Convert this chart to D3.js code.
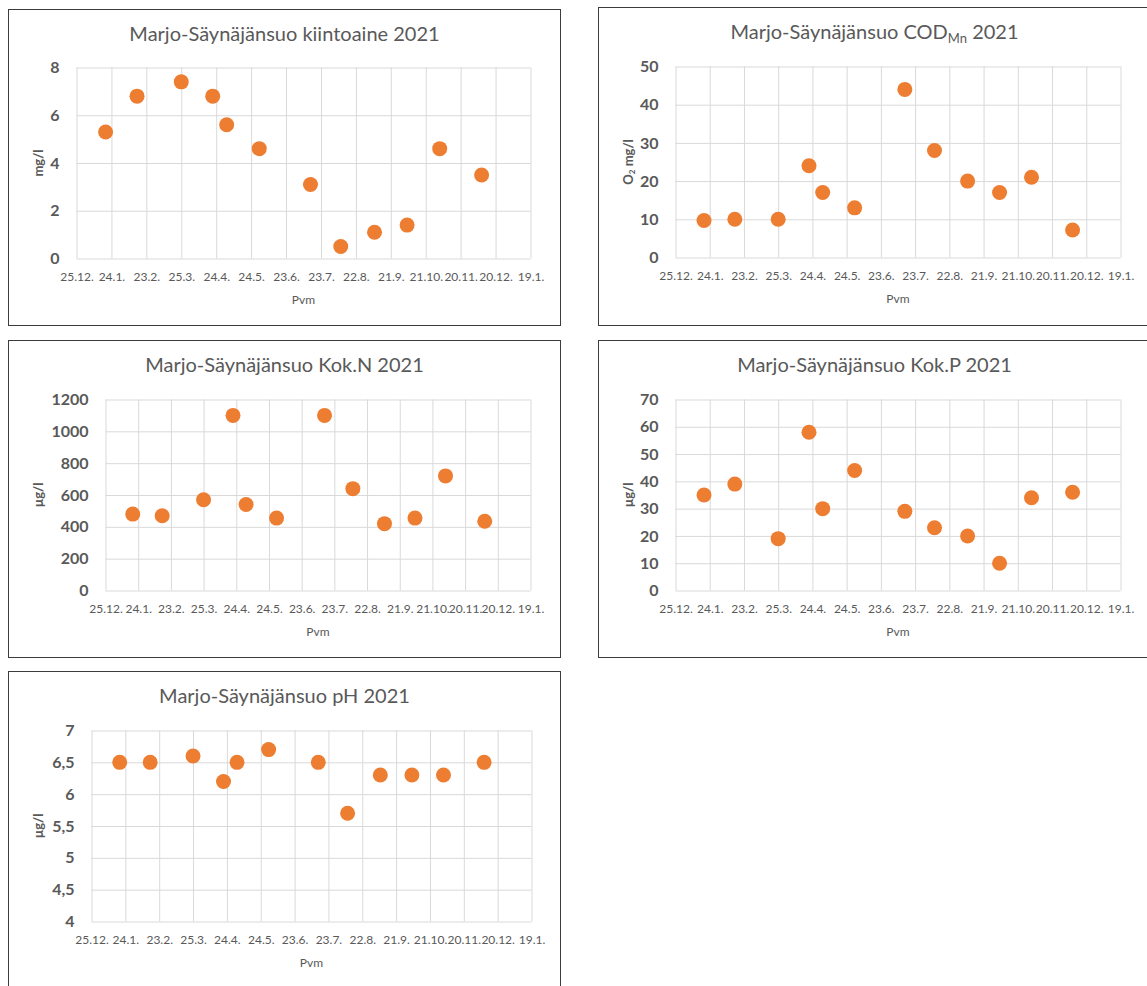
<!DOCTYPE html>
<html>
<head>
<meta charset="utf-8">
<script src="https://cdn.jsdelivr.net/npm/d3@7"></script>
<style>
  body { margin: 0; background: #fff; }
  svg text { font-family: Lato, "Open Sans", sans-serif; }
</style>
</head>
<body>
<svg id="chart" width="1147" height="986"></svg>
<script>
// Sampling dates, Marjo-Säynäjänsuo 2021
const sampleDates = ["2021-01-19", "2021-02-15", "2021-03-25", "2021-04-21", "2021-05-03", "2021-05-31",
                     "2021-07-14", "2021-08-09", "2021-09-07", "2021-10-05", "2021-11-02", "2021-12-08"];

// Measured values per parameter
const kiintoaine = [5.3, 6.8, 7.4, 6.8, 5.6, 4.6, 3.1, 0.5, 1.1, 1.4, 4.6, 3.5];   // mg/l
const codMn      = [9.7, 10, 10, 24, 17, 13, 44, 28, 20, 17, 21, 7.2];              // O2 mg/l
const kokN       = [480, 470, 570, 1100, 540, 455, 1100, 640, 420, 455, 720, 435];  // µg/l
const kokP       = [35, 39, 19, 58, 30, 44, 29, 23, 20, 10, 34, 36];                // µg/l
const pH         = [6.5, 6.5, 6.6, 6.2, 6.5, 6.7, 6.5, 5.7, 6.3, 6.3, 6.3, 6.5];

// Axis ticks
const xTickDates = ["2020-12-25", "2021-01-24", "2021-02-23", "2021-03-25", "2021-04-24", "2021-05-24", "2021-06-23",
                    "2021-07-23", "2021-08-22", "2021-09-21", "2021-10-21", "2021-11-20", "2021-12-20", "2022-01-19"];
const yTicksKiintoaine = [0, 2, 4, 6, 8];
const yTicksCod        = [0, 10, 20, 30, 40, 50];
const yTicksKokN       = [0, 200, 400, 600, 800, 1000, 1200];
const yTicksKokP       = [0, 10, 20, 30, 40, 50, 60, 70];
const yTicksPH         = [4, 4.5, 5, 5.5, 6, 6.5, 7];

// Text pieces: [text, isSubscript]
const titleKiintoaine = [["Marjo-Säynäjänsuo kiintoaine 2021", false]];
const titleCod        = [["Marjo-Säynäjänsuo COD", false], ["Mn", true], [" 2021", false]];
const titleKokN       = [["Marjo-Säynäjänsuo Kok.N 2021", false]];
const titleKokP       = [["Marjo-Säynäjänsuo Kok.P 2021", false]];
const titlePH         = [["Marjo-Säynäjänsuo pH 2021", false]];
const labelMg   = [["mg/l", false]];
const labelO2   = [["O", false], ["2", true], [" mg/l", false]];
const labelUg   = [["µg/l", false]];
const xAxisTitle = "Pvm";

const parse = d3.utcParse("%Y-%m-%d");
const fmtDate = d3.utcFormat("%-d.%-m.");
const fmtComma = d => String(d).replace(".", ",");

const panels = [
  { title: titleKiintoaine, yLabel: labelMg, values: kiintoaine, yTicks: yTicksKiintoaine,
    frame: [8.5, 9.5, 552, 316], plot: [76.5, 67.5, 530.5, 258.5] },
  { title: titleCod, yLabel: labelO2, values: codMn, yTicks: yTicksCod,
    frame: [598.5, 7.5, 560, 318], plot: [675.5, 66.5, 1120.5, 257.5] },
  { title: titleKokN, yLabel: labelUg, values: kokN, yTicks: yTicksKokN,
    frame: [8.5, 340.5, 552, 317], plot: [105.5, 399.5, 530.5, 590.5] },
  { title: titleKokP, yLabel: labelUg, values: kokP, yTicks: yTicksKokP,
    frame: [598.5, 340.5, 560, 317], plot: [675.5, 399.5, 1120.5, 590.5] },
  { title: titlePH, yLabel: labelUg, values: pH, yTicks: yTicksPH, tickFormat: fmtComma,
    frame: [8.5, 671.5, 552, 330], plot: [91.5, 730.5, 531.5, 921.5] }
];

const svg = d3.select("#chart");
const ticks = xTickDates.map(parse);
const dates = sampleDates.map(parse);

function addPieces(textSel, pieces, subSize, shift) {
  pieces.forEach(([t, sub]) => {
    const ts = textSel.append("tspan").text(t);
    if (sub) ts.attr("baseline-shift", shift).attr("font-size", subSize);
  });
}

function drawPanel(p) {
  const g = svg.append("g");
  const [fx, fy, fw, fh] = p.frame;
  const [L, T, R, B] = p.plot;

  g.append("rect")
    .attr("x", fx).attr("y", fy).attr("width", fw).attr("height", fh)
    .attr("fill", "#fff").attr("stroke", "#3c3c3c").attr("stroke-width", 1);

  const x = d3.scaleUtc().domain([ticks[0], ticks[ticks.length - 1]]).range([L, R]);
  const y = d3.scaleLinear().domain([p.yTicks[0], p.yTicks[p.yTicks.length - 1]]).range([B, T]);

  // horizontal gridlines + value labels
  const ya = g.append("g").attr("transform", `translate(${L},0)`)
    .call(d3.axisLeft(y).tickValues(p.yTicks).tickFormat(p.tickFormat || (d => d))
      .tickSize(-(R - L)).tickPadding(17));
  ya.select(".domain").remove();
  ya.selectAll("line").attr("stroke", "#d9d9d9");
  ya.attr("font-family", null).attr("font-size", 16);
  ya.selectAll("text").attr("fill", "#595959").attr("font-weight", "bold");

  // vertical gridlines + date labels
  const xa = g.append("g").attr("transform", `translate(0,${B})`)
    .call(d3.axisBottom(x).tickValues(ticks).tickFormat(fmtDate)
      .tickSize(-(B - T)).tickPadding(14));
  xa.select(".domain").remove();
  xa.selectAll("line").attr("stroke", "#d9d9d9");
  xa.attr("font-family", null).attr("font-size", 12);
  xa.selectAll("text").attr("fill", "#595959");

  // points
  g.append("g").selectAll("circle")
    .data(p.values)
    .join("circle")
    .attr("cx", (d, i) => x(dates[i]))
    .attr("cy", d => y(d))
    .attr("r", 7.5)
    .attr("fill", "#ed7d31");

  // chart title
  const title = g.append("text")
    .attr("x", fx + 276).attr("y", fy + 31)
    .attr("text-anchor", "middle")
    .attr("font-size", 20).attr("fill", "#595959");
  addPieces(title, p.title, 13, -4);

  // x axis title
  g.append("text")
    .attr("x", (L + R) / 2).attr("y", B + 41).attr("dy", "0.35em")
    .attr("text-anchor", "middle").attr("font-size", 12).attr("fill", "#595959")
    .text(xAxisTitle);

  // y axis title
  const yl = g.append("text")
    .attr("transform", `translate(${fx + 30},${(T + B) / 2}) rotate(-90)`)
    .attr("dy", "0.35em")
    .attr("text-anchor", "middle").attr("font-size", 13).attr("font-weight", "bold").attr("fill", "#595959");
  addPieces(yl, p.yLabel, 8, -2);
}

panels.forEach(drawPanel);
</script>
</body>
</html>
